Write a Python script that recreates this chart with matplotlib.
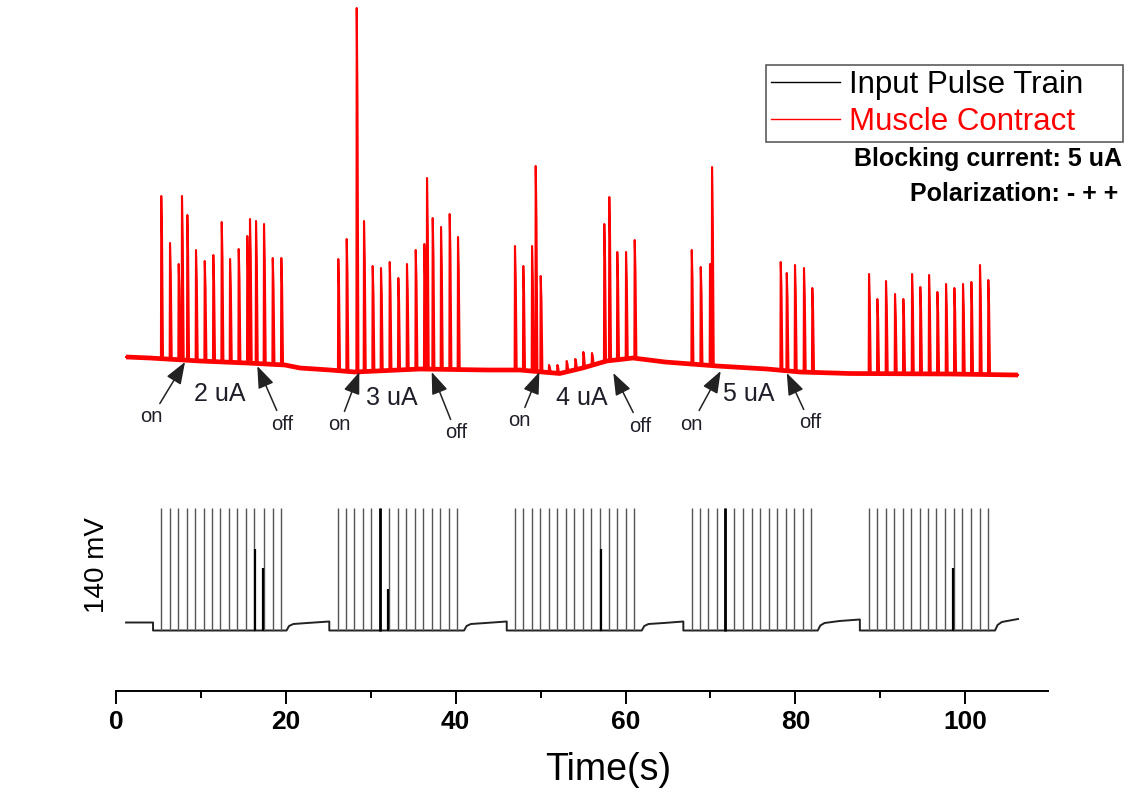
import matplotlib
matplotlib.use("Agg")
import matplotlib.pyplot as plt
import numpy as np
from matplotlib.lines import Line2D
from matplotlib.ticker import MultipleLocator

plt.rcParams['font.family'] = ['Liberation Sans', 'DejaVu Sans']

# ----------------------------------------------------------
# Data (time in s, signal levels in arbitrary display units)
# ----------------------------------------------------------
# muscle contraction: slow baseline + twitch peaks
red_base_t = [1.17, 3.99, 9.88, 15.42, 19.89, 21.66, 25.19, 28.14, 35.79, 43.69,
              47.53, 52.24, 54.95, 57.78, 60.88, 64.65, 70.78, 76.67, 80.55,
              86.44, 98.22, 106.23]
red_base_y = [334, 333, 330, 328, 326, 323, 321, 319, 322, 321,
              321, 317.5, 323, 330, 333, 329, 325, 322, 319,
              317.5, 317, 316]

spike_t = [5.32, 6.35, 7.37, 7.76, 8.39, 9.41, 10.44, 11.45, 12.44, 13.42, 14.44,
           15.45, 15.77, 16.48, 17.42, 18.45, 19.46,
           26.17, 27.16, 28.34, 29.20, 30.22, 31.20, 32.23, 33.24, 34.26, 35.29,
           36.30, 36.62, 37.29, 38.27, 39.29, 40.27,
           46.98, 47.96, 48.99, 49.42, 50.01, 50.99, 51.97, 53.07, 54.09, 55.03,
           56.05, 57.50, 58.09, 59.03, 60.06, 61.08,
           67.80, 68.86, 69.95, 70.19, 78.28, 78.99, 79.96, 81.02, 82.00,
           88.68, 89.66, 90.68, 91.74, 92.72, 93.75, 94.72, 95.75, 96.73, 97.75,
           98.73, 99.75, 100.73, 101.75, 102.73]
spike_y = [495, 448, 427, 495, 476, 441, 430, 436, 469, 432, 442,
           455, 472, 470, 467, 433, 433,
           432, 452, 683, 470, 425, 423, 429, 413, 427, 441,
           447, 513, 473, 464, 477, 454,
           445, 425, 445, 525, 415, 326, 326, 330, 332, 339,
           338, 467, 494, 439, 439, 451,
           441, 424, 427, 524, 429, 418, 426, 423, 403,
           417, 392, 410, 397, 392, 417, 404, 416, 399, 407,
           403, 407, 409, 426, 411]

# input pulse train
black_base_t = [1.17, 4.35, 4.35, 20.07, 20.37, 20.87, 22.5, 25.11, 25.11,
                40.98, 41.28, 41.78, 43.5, 46.01, 46.01, 61.91, 62.21, 62.71,
                64.5, 66.81, 66.81, 82.64, 82.94, 83.44, 85.2, 87.6, 87.6,
                103.52, 103.82, 104.32, 106.23]
black_base_y = [68.5, 68.5, 60.5, 60.5, 65.0, 67.0, 68.0, 69.5, 60.5,
                60.5, 65.0, 67.0, 68.0, 69.5, 60.5, 60.5, 65.0, 67.0,
                68.0, 69.5, 60.5, 60.5, 65.5, 68.0, 70.0, 71.5, 60.5,
                60.5, 66.0, 69.0, 72.0]
pulse_t = [5.32, 6.35, 7.33, 8.32, 9.33, 10.32, 11.30, 12.27, 13.26, 14.24, 15.27,
           16.28, 17.42, 18.45, 19.46,
           26.10, 27.08, 28.06, 29.08, 30.06, 31.08, 32.18, 33.17, 34.18, 35.21,
           36.18, 37.21, 38.19, 39.21, 40.19,
           46.98, 47.96, 48.99, 49.96, 50.99, 51.97, 52.96, 53.97, 54.96, 55.94,
           56.96, 58.02, 59.00, 60.02, 61.04,
           67.80, 68.77, 69.75, 70.74, 71.76, 72.82, 73.84, 74.86, 75.84, 76.87,
           77.85, 78.87, 79.85, 80.87, 81.85,
           88.68, 89.66, 90.68, 91.66, 92.65, 93.63, 94.65, 95.63, 96.61, 97.63,
           98.69, 99.67, 100.69, 101.72, 102.73]
pulse_low = 60.5
pulse_top = 183
artifact_t = [16.36, 17.27, 32.06, 57.08, 98.57]
artifact_y = [142, 123, 102, 142, 123]
thick_pulse_t = [31.08, 71.76]

# blocking-current annotations
block_labels = ['2 uA', '3 uA', '4 uA', '5 uA']
block_label_xy = [(12.24, 297), (32.46, 293), (54.84, 293), (74.46, 297)]
on_text_xy = [(4.19, 274), (26.29, 266), (47.49, 270), (67.8, 267)]
on_head_xy = [(8.12, 329), (28.65, 319), (49.85, 319), (71.21, 320)]
off_text_xy = [(19.62, 267), (40.04, 258), (61.71, 265), (81.73, 268)]
off_head_xy = [(16.63, 325), (37.17, 319), (58.56, 318), (78.99, 318)]


def build_red_trace(base_t, base_y, spk_t, spk_y):
    """Baseline plus a sharp twitch (peak + shoulder) at every spike time."""
    pts = list(zip(base_t, base_y))
    for t, peak in zip(spk_t, spk_y):
        b = float(np.interp(t, base_t, base_y))
        pts += [(t - 0.04, b), (t, peak), (t + 0.09, b + 0.74 * (peak - b)), (t + 0.2, b)]
    pts.sort()
    xs, ys = zip(*pts)
    return xs, ys


fig = plt.figure(figsize=(11.34, 7.96), dpi=100)
ax = fig.add_axes([116.1 / 1134, 105 / 796, (1048 - 116.1) / 1134, 690 / 796])

# muscle contraction trace
red_x, red_y = build_red_trace(red_base_t, red_base_y, spike_t, spike_y)
ax.plot(red_base_t, red_base_y, color='red', lw=3.4, solid_capstyle='butt')
ax.plot(red_x, red_y, color='red', lw=1.5)

# input pulse train
ax.plot(black_base_t, black_base_y, color='#222222', lw=1.4)
ax.vlines(pulse_t, pulse_low, pulse_top, color='#555555', lw=1.0)
ax.vlines(thick_pulse_t, pulse_low, pulse_top, color='black', lw=2.0)
ax.vlines(artifact_t, pulse_low, artifact_y, color='black', lw=1.6)

# on / off arrows
arrow = dict(arrowstyle='-|>,head_length=0.75,head_width=0.28', color='#222222',
             lw=1.1, mutation_scale=18, shrinkA=1, shrinkB=0)
for lab, lxy, otxt, ohead, ftxt, fhead in zip(block_labels, block_label_xy,
                                              on_text_xy, on_head_xy,
                                              off_text_xy, off_head_xy):
    ax.text(*lxy, lab, fontsize=18, ha='center', va='center', color='#1f1f2a')
    ax.annotate('on', xy=ohead, xytext=otxt, fontsize=14.5, ha='center', va='center',
                color='#1f1f2a', arrowprops=arrow)
    ax.annotate('off', xy=fhead, xytext=ftxt, fontsize=14.5, ha='center', va='center',
                color='#1f1f2a', arrowprops=arrow)

ax.set_xlim(0, 109.76)
ax.set_ylim(0, 690)
ax.set_yticks([])
for side in ['left', 'top', 'right']:
    ax.spines[side].set_visible(False)
ax.spines['bottom'].set_linewidth(1.4)

ax.xaxis.set_major_locator(MultipleLocator(20))
ax.xaxis.set_minor_locator(MultipleLocator(10))
ax.tick_params(axis='x', which='major', direction='out', length=9.5, width=1.4,
               labelsize=19, pad=4)
ax.tick_params(axis='x', which='minor', direction='out', length=5, width=1.4)
for lbl in ax.get_xticklabels():
    lbl.set_fontweight('bold')

ax.set_xlabel('Time(s)', fontsize=27)
ax.xaxis.set_label_coords((608 - 116.1) / 931.9, -0.088)
ax.xaxis.label.set_va('top')

ax.text((97 - 116.1) / 931.9, 0.183, '140 mV', transform=ax.transAxes, rotation=90,
        fontsize=20, ha='center', va='center')

handles = [Line2D([], [], color='black', lw=1.0), Line2D([], [], color='red', lw=1.0)]
leg = fig.legend(handles, ['Input Pulse Train', 'Muscle Contract'],
                 loc='upper left', mode='expand',
                 bbox_to_anchor=(766 / 1134, 1 - 141 / 796, 357 / 1134, 76 / 796),
                 fontsize=22.5, frameon=True, fancybox=False, handlelength=2.2,
                 handletextpad=0.3, borderpad=0.16, labelspacing=0.22,
                 borderaxespad=0)
leg.get_frame().set_edgecolor('#333333')
leg.get_frame().set_linewidth(1.2)
leg.get_texts()[1].set_color('red')

fig.text(1122 / 1134, 1 - 159 / 796, 'Blocking current: 5 uA', fontsize=18,
         fontweight='bold', ha='right', va='center')
fig.text(1118 / 1134, 1 - 194 / 796, 'Polarization: - + +', fontsize=18,
         fontweight='bold', ha='right', va='center')

fig.savefig('out.png', dpi=100)
